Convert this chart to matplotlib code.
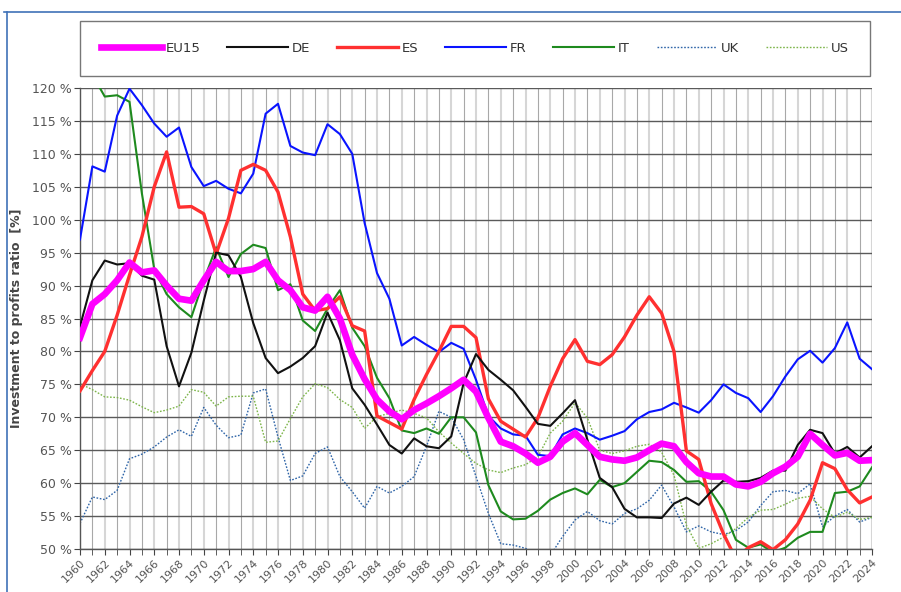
import matplotlib
matplotlib.use("Agg")
import matplotlib.pyplot as plt
from matplotlib.lines import Line2D
import numpy as np

years = list(range(1960, 2025))

eu15 = [82.1, 87.2, 88.7, 90.8, 93.5, 92.0, 92.3, 90.0, 88.0, 87.7,
        90.8, 93.6, 92.2, 92.2, 92.5, 93.6, 90.8, 89.3, 86.7, 86.2,
        88.3, 85.0, 79.5, 75.8, 72.7, 70.9, 69.7, 71.1, 72.1, 73.2,
        74.4, 75.7, 73.9, 69.9, 66.3, 65.6, 64.5, 63.1, 64.0, 66.3,
        67.6, 65.8, 64.0, 63.6, 63.4, 63.9, 65.0, 66.0, 65.6, 63.2,
        61.5, 61.0, 61.0, 59.8, 59.5, 60.2, 61.5, 62.5, 64.0, 67.5,
        65.8, 64.2, 64.6, 63.4, 63.5]
de = [83.8, 90.8, 93.8, 93.2, 93.4, 91.5, 90.9, 80.8, 74.7, 79.8,
      87.7, 95.0, 94.6, 91.3, 84.3, 79.0, 76.7, 77.7, 79.0, 80.8,
      85.9, 81.7, 74.4, 71.9, 68.9, 65.8, 64.5, 66.8, 65.6, 65.3,
      67.1, 75.2, 79.6, 77.2, 75.7, 74.1, 71.6, 69.0, 68.7, 70.6,
      72.6, 66.6, 60.8, 59.4, 56.1, 54.8, 54.8, 54.7, 56.9, 57.8,
      56.7, 58.7, 60.4, 60.2, 60.3, 60.8, 61.9, 61.9, 65.8, 68.1,
      67.6, 64.5, 65.5, 63.9, 65.6]
es = [74.0, 77.1, 80.0, 85.5, 91.6, 97.4, 105.0, 110.3, 101.9, 102.0,
      100.9, 94.8, 100.2, 107.5, 108.4, 107.5, 104.2, 97.4, 88.7, 86.2,
      86.5, 88.3, 83.9, 83.1, 70.2, 69.2, 68.2, 72.7, 76.5, 80.0,
      83.8, 83.8, 82.1, 72.8, 69.4, 68.2, 67.0, 69.9, 74.7, 78.9,
      81.8, 78.5, 78.0, 79.5, 82.2, 85.5, 88.3, 85.8, 80.0, 64.9,
      63.6, 56.9, 52.3, 48.5, 50.2, 51.1, 49.9, 51.4, 53.8, 57.4,
      63.1, 62.2, 59.0, 57.0, 57.9]
fr = [97.0, 108.1, 107.3, 115.8, 119.9, 117.4, 114.6, 112.6, 114.0, 108.0,
      105.1, 105.9, 104.7, 104.0, 107.0, 116.1, 117.6, 111.2, 110.2, 109.8,
      114.5, 113.0, 110.0, 99.5, 91.9, 88.0, 80.9, 82.2, 81.0, 79.9,
      81.3, 80.4, 75.7, 70.2, 68.3, 67.4, 67.2, 64.3, 64.1, 67.4,
      68.3, 67.6, 66.6, 67.2, 67.9, 69.7, 70.8, 71.2, 72.2, 71.5,
      70.7, 72.6, 75.0, 73.7, 72.9, 70.8, 73.2, 76.2, 78.8, 80.1,
      78.3, 80.5, 84.4, 78.9, 77.3]
it = [123.0, 122.0, 118.7, 118.9, 117.9, 104.0, 92.5, 88.7, 86.7, 85.2,
      90.8, 95.8, 91.3, 94.8, 96.2, 95.7, 89.3, 90.2, 84.7, 83.1,
      86.5, 89.3, 83.6, 80.8, 76.0, 72.9, 68.0, 67.6, 68.3, 67.5,
      70.0, 70.0, 67.7, 59.7, 55.7, 54.5, 54.6, 55.8, 57.5, 58.5,
      59.2, 58.3, 60.5, 59.4, 60.0, 61.7, 63.4, 63.2, 62.0, 60.2,
      60.3, 58.7, 55.9, 51.4, 50.2, 50.7, 49.5, 50.2, 51.7, 52.6,
      52.6, 58.5, 58.7, 59.5, 62.4]
uk = [53.9, 57.9, 57.5, 58.9, 63.7, 64.4, 65.5, 67.0, 68.1, 67.1,
      71.5, 68.8, 66.9, 67.3, 73.7, 74.3, 67.0, 60.4, 61.1, 64.5,
      65.5, 61.0, 58.7, 56.2, 59.5, 58.5, 59.5, 61.0, 65.6, 70.9,
      70.0, 66.6, 61.0, 55.4, 50.8, 50.6, 50.1, 49.0, 49.0, 51.9,
      54.4, 55.7, 54.3, 53.8, 55.4, 56.1, 57.4, 59.7, 56.4, 52.6,
      53.5, 52.6, 52.2, 52.8, 54.1, 56.6, 58.7, 58.9, 58.4, 59.9,
      53.4, 55.0, 56.0, 54.1, 54.8]
us = [75.1, 74.2, 73.1, 73.0, 72.6, 71.6, 70.7, 71.1, 71.7, 74.2,
      73.8, 71.7, 73.1, 73.2, 73.2, 66.2, 66.4, 69.8, 73.1, 75.1,
      74.5, 72.7, 71.5, 68.3, 70.1, 70.6, 71.1, 70.6, 69.9, 67.8,
      66.1, 64.5, 63.0, 62.0, 61.6, 62.3, 62.8, 64.0, 67.6, 69.4,
      72.2, 69.9, 65.0, 64.5, 64.9, 65.6, 65.9, 64.7, 61.2, 53.6,
      50.1, 50.8, 51.8, 53.1, 54.8, 55.9, 56.0, 56.8, 57.7, 58.0,
      56.1, 54.8, 55.6, 54.5, 54.8]

W, H = 901, 592
fig = plt.figure(figsize=(W / 100, H / 100), dpi=100)
ax = fig.add_axes([80 / W, 1 - 549 / H, (872 - 80) / W, (549 - 88) / H])

# grid
for yr in years:
    if yr % 2 == 0:
        ax.axvline(yr, color="#d6d6d6", lw=1.5, zorder=0)
    else:
        ax.axvline(yr, color="#a8a8a8", lw=0.8, zorder=0)
for v in range(50, 121, 5):
    ax.axhline(v, color="#5a5a5a", lw=1.0, zorder=0.5)

dot = (0, (1.2, 1.2))
ax.plot(years, uk, color="#2f65a8", lw=1.0, ls=dot, label="UK", zorder=2)
ax.plot(years, us, color="#7db54a", lw=1.0, ls=dot, label="US", zorder=2)
ax.plot(years, it, color="#1e8a1e", lw=1.5, label="IT", zorder=3)
ax.plot(years, fr, color="#0a14ff", lw=1.5, label="FR", zorder=3)
ax.plot(years, es, color="#ff3030", lw=2.4, label="ES", zorder=3)
ax.plot(years, de, color="#111111", lw=1.5, label="DE", zorder=3)
ax.plot(years, eu15, color="#ff00ff", lw=4.8, label="EU15", zorder=4)

ax.set_xlim(1960, 2024)
ax.set_ylim(50, 120)
ax.set_yticks(range(50, 121, 5))
ax.set_yticklabels([f"{v} %" for v in range(50, 121, 5)])
ax.set_xticks(years, minor=True)
ax.set_xticks(range(1960, 2025, 2))
ax.set_xticklabels([str(y) for y in range(1960, 2025, 2)], rotation=45,
                   ha="right", rotation_mode="anchor")
ax.tick_params(axis="x", which="both", length=4, color="#444444",
               labelsize=8, labelcolor="#555555", pad=2)
ax.tick_params(axis="y", length=4, color="#444444", labelsize=9,
               labelcolor="#555555", pad=2)
for s in ["top", "right"]:
    ax.spines[s].set_visible(False)
for s in ["left", "bottom"]:
    ax.spines[s].set_color("#555555")
    ax.spines[s].set_linewidth(1.0)
ax.set_ylabel("Investment to profits ratio  [%]", fontsize=9,
              fontweight="bold", color="#444444", labelpad=6)

handles, labels = ax.get_legend_handles_labels()
order = ["EU15", "DE", "ES", "FR", "IT", "UK", "US"]
hmap = dict(zip(labels, handles))
leg = fig.legend([hmap[k] for k in order], order, loc="center",
                 bbox_to_anchor=(80 / W, 1 - 80 / H, 790 / W, 63 / H),
                 mode="expand", ncol=7, borderaxespad=0, fancybox=False,
                 edgecolor="#555555", handlelength=4.6, fontsize=9.5,
                 borderpad=1.6, handletextpad=0.3)
for t in leg.get_texts():
    t.set_color("#333333")
leg.get_frame().set_linewidth(1.0)

# blue outer frame (top and left)
fig.add_artist(Line2D([4 / W, 1.0], [1 - 12 / H, 1 - 12 / H], color="#3f72b8",
                      lw=1.2, transform=fig.transFigure))
fig.add_artist(Line2D([7 / W, 7 / W], [0, 1 - 12 / H], color="#3f72b8",
                      lw=1.2, transform=fig.transFigure))

fig.savefig("out.png", dpi=100)
